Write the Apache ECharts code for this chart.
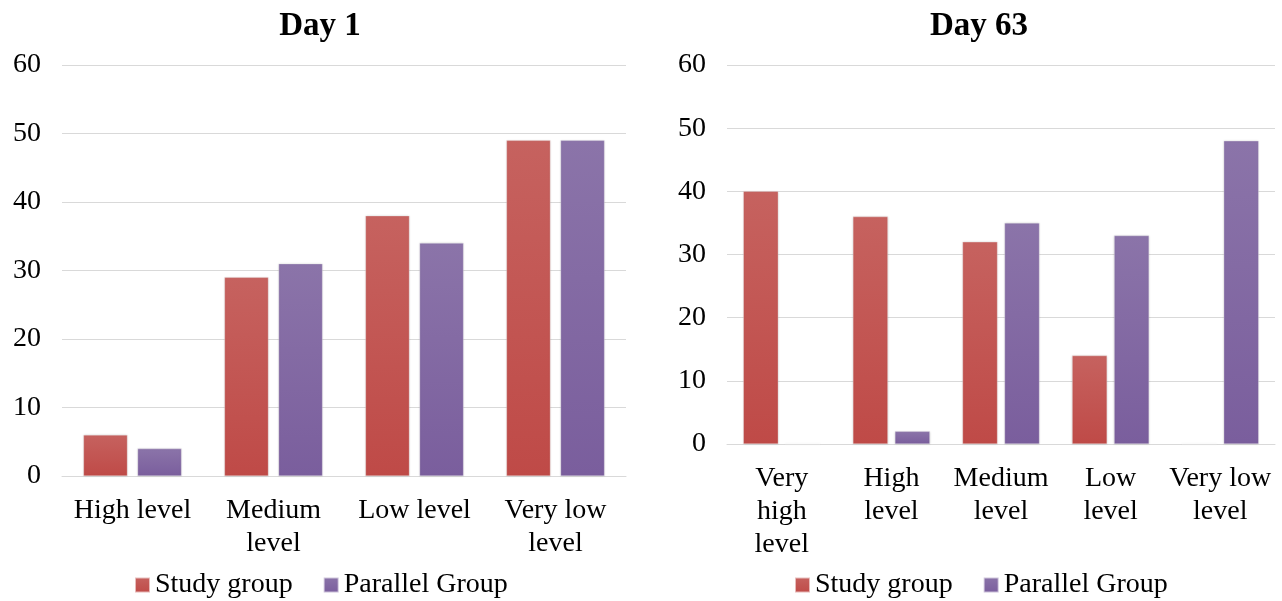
<!DOCTYPE html>
<html>
<head>
<meta charset="utf-8">
<script src="https://cdn.jsdelivr.net/npm/echarts@6/dist/echarts.min.js"></script>
<style>
  html, body { margin: 0; padding: 0; background: #fff; }
  #chart { width: 1282px; height: 601px; }
</style>
</head>
<body>
<div id="chart"></div>
<script>
// data
var day1Categories = ['High level', 'Medium\nlevel', 'Low level', 'Very low\nlevel'];
var day1Study = [6, 29, 38, 49];
var day1Parallel = [4, 31, 34, 49];

var day63Categories = ['Very\nhigh\nlevel', 'High\nlevel', 'Medium\nlevel', 'Low\nlevel', 'Very low\nlevel'];
var day63Study = [40, 36, 32, 14, 0];
var day63Parallel = [0, 2, 35, 33, 48];

var yTicks = [0, 10, 20, 30, 40, 50, 60];
var seriesNames = ['Study group', 'Parallel Group'];

var font = 'Liberation Serif, Times New Roman, serif';

function grad(top, bottom) {
  return {
    type: 'linear', x: 0, y: 0, x2: 0, y2: 1,
    colorStops: [{ offset: 0, color: top }, { offset: 1, color: bottom }]
  };
}
var redFill = grad('#C6625F', '#BF4A47');
var purpleFill = grad('#8B74A9', '#7A5E9D');

function yAxisFor(gridIndex) {
  return {
    type: 'value', gridIndex: gridIndex,
    min: yTicks[0], max: yTicks[yTicks.length - 1], interval: 10,
    axisLine: { show: false }, axisTick: { show: false },
    axisLabel: { color: '#000', fontFamily: font, fontSize: 28, margin: 21 },
    splitLine: { lineStyle: { color: '#D9D9D9', width: 1 } }
  };
}

function xAxisFor(gridIndex, cats) {
  return {
    type: 'category', gridIndex: gridIndex, data: cats,
    axisLine: { lineStyle: { color: '#D9D9D9' } },
    axisTick: { show: false },
    axisLabel: { color: '#000', fontFamily: font, fontSize: 28, lineHeight: 33, margin: 18, interval: 0 }
  };
}

function bar(name, data, idx, fill, width, gap) {
  return {
    name: name, type: 'bar', data: data,
    xAxisIndex: idx, yAxisIndex: idx,
    barWidth: width, barGap: gap,
    itemStyle: { color: fill, borderColor: 'rgba(255,255,255,0.6)', borderWidth: 0.5,
                 shadowBlur: 2, shadowColor: 'rgba(0,0,0,0.18)' },
    emphasis: { disabled: true }
  };
}

function legendAt(left) {
  return {
    data: seriesNames, left: left, top: 566, itemWidth: 15, itemHeight: 15, itemGap: 30,
    icon: 'rect', selectedMode: false,
    textStyle: { fontFamily: font, fontSize: 28, color: '#000' }
  };
}

var chart = echarts.init(document.getElementById('chart'));
chart.setOption({
  animation: false,
  color: ['#C0504D', '#8064A2'],
  title: [
    { text: 'Day 1', left: 315, top: 5, textAlign: 'center',
      textStyle: { fontFamily: font, fontSize: 33, fontWeight: 'bold', color: '#000' } },
    { text: 'Day 63', left: 974, top: 5, textAlign: 'center',
      textStyle: { fontFamily: font, fontSize: 33, fontWeight: 'bold', color: '#000' } }
  ],
  legend: [legendAt(129), legendAt(789)],
  grid: [
    { left: 62, right: 656, top: 65, bottom: 125 },
    { left: 727, right: 7, top: 65, bottom: 157 }
  ],
  xAxis: [xAxisFor(0, day1Categories), xAxisFor(1, day63Categories)],
  yAxis: [yAxisFor(0), yAxisFor(1)],
  series: [
    bar(seriesNames[0], day1Study, 0, redFill, 44, '23%'),
    bar(seriesNames[1], day1Parallel, 0, purpleFill, 44, '23%'),
    bar(seriesNames[0], day63Study, 1, redFill, 35, '20%'),
    bar(seriesNames[1], day63Parallel, 1, purpleFill, 35, '20%')
  ]
});
</script>
</body>
</html>
